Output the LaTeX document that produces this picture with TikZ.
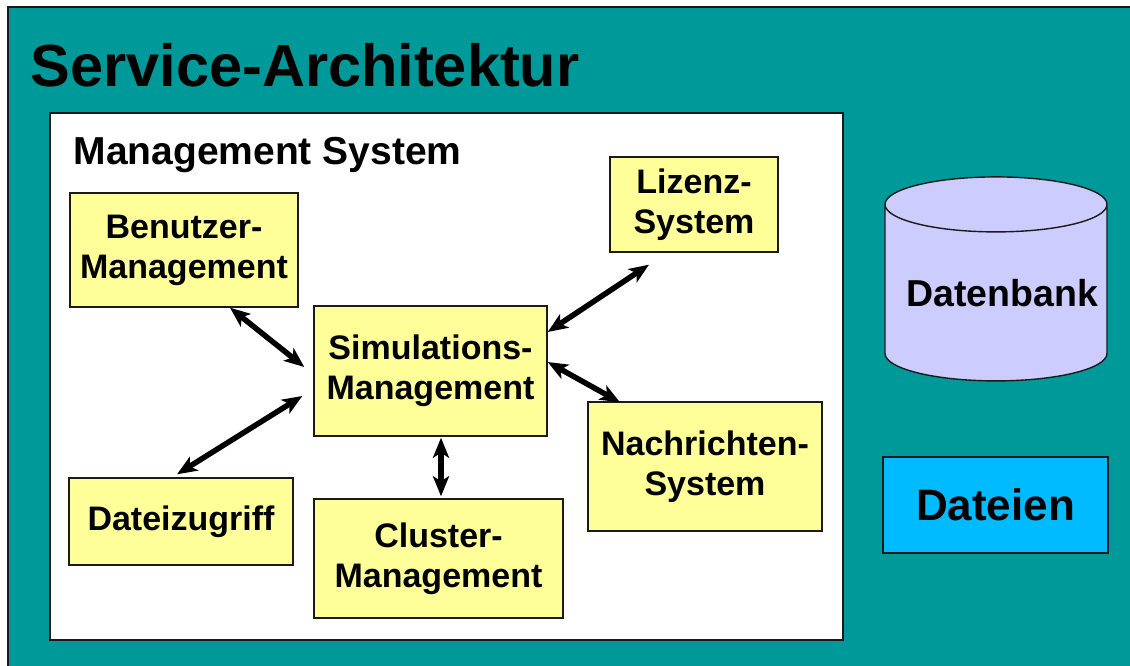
\documentclass[tikz,border=0pt]{standalone}
\usepackage{fontspec}
\setmainfont{Liberation Sans}
\usepackage{tikz}
\usetikzlibrary{arrows.meta, calc, shapes.geometric}
\definecolor{archteal}{HTML}{009999}
\definecolor{archyellow}{HTML}{FFFF99}
\definecolor{archlilac}{HTML}{CCCCFF}
\definecolor{archcyan}{HTML}{00BBFF}
\definecolor{archline}{HTML}{1A1A1A}

\begin{document}
\begin{tikzpicture}[
      x=1pt,
      y=-1pt,
      font=\bfseries,
      module/.style={
        draw=archline,
        line width=1.4pt,
        fill=archyellow,
        inner sep=0pt,
        align=center,
        font=\fontsize{34}{40}\selectfont\bfseries
      },
      link/.style={
        {Stealth[length=20pt,width=16pt,inset=5pt]}-{Stealth[length=20pt,width=16pt,inset=5pt]},
        line width=5.5pt,
        draw=black
      }
  ]

    \useasboundingbox (0,0) rectangle (1130,665);
    \clip (0,0) rectangle (1130,665);
    \fill[white] (0,0) rectangle (1130,665);

    % Rahmen
    \draw[fill=archteal, draw=archline, line width=1.6pt]
      (8,7) rectangle (1140,675);

    \node[
      anchor=base west,
      font=\fontsize{59.5}{70}\selectfont\bfseries
    ] (title) at (27,86) {Service-Architektur};

    % Management System
    \draw[fill=white, draw=archline, line width=1.4pt]
      (50,113) rectangle (843,640);

    \node[
      anchor=base west,
      font=\fontsize{39}{46}\selectfont\bfseries
    ] (mgmt) at (70,164) {Management System};

    \node[module, minimum width=228pt, minimum height=114pt]
      (benutzer) at (184,250) {Benutzer-\\Management};
    \node[module, minimum width=233pt, minimum height=130pt]
      (sim) at (430.5,371) {Simulations-\\Management};
    \node[module, minimum width=168pt, minimum height=95pt]
      (lizenz) at (694,204.5) {Lizenz-\\System};
    \node[module, minimum width=234pt, minimum height=129pt]
      (nachrichten) at (705,466.5) {Nachrichten-\\System};
    \node[module, minimum width=224pt, minimum height=87pt]
      (datei) at (181,521.5) {Dateizugriff};
    \node[module, minimum width=249pt, minimum height=119pt]
      (cluster) at (438.5,558.5) {Cluster-\\Management};

    \draw[link] ($(benutzer.south)+(46,0)$) -- ($(sim.west)+(-9,-4)$);
    \draw[link] ($(datei.north)+(-4,-3)$) -- ($(sim.west)+(-11,25)$);
    \draw[link] ($(sim.south)+(10.5,1)$) -- ($(cluster.north)+(2.5,-2)$);
    \draw[link] ($(sim.east)+(0,-39)$) -- ($(lizenz.south)+(-45,12)$);
    \draw[link] ($(sim.east)+(0,-9)$) -- ($(nachrichten.north)+(-85,1)$);

    % Datenbank und Dateien
    \node[
      cylinder,
      shape border rotate=90,
      aspect=0.27,
      minimum width=222pt,
      minimum height=204pt,
      inner sep=0pt,
      draw=archline,
      fill=archlilac,
      line width=1.4pt,
      font=\fontsize{37.5}{44}\selectfont\bfseries
    ] (datenbank) at (996,293) {\hspace*{12pt}Datenbank};

    \node[
      draw=archline,
      fill=archcyan,
      line width=1.4pt,
      minimum width=225pt,
      minimum height=96pt,
      font=\fontsize{44}{50}\selectfont\bfseries
    ] (dateien) at (995.5,505) {Dateien};

  \end{tikzpicture}
\end{document}
